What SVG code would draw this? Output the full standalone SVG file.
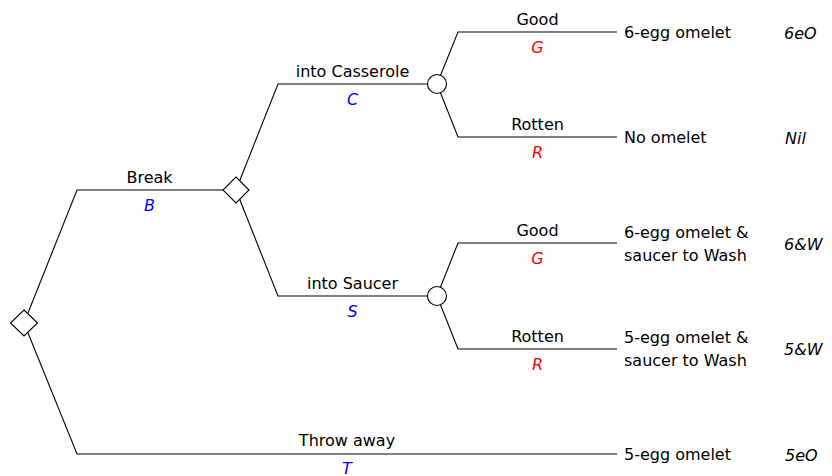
<svg xmlns="http://www.w3.org/2000/svg" width="832" height="476" viewBox="0 0 832 476">
  <style>
    text { font-family: "DejaVu Sans", "Liberation Sans", sans-serif; font-size: 16px; fill: #000; }
    .lbl { text-anchor: middle; }
    .var { font-style: italic; text-anchor: middle; }
    .blue { fill: #0000ff; }
    .red { fill: #ff0000; }
    .code { font-style: italic; }
    .edge { fill: none; stroke: #000; stroke-width: 1.1; }
    .dec { fill: #fff; stroke: #000; stroke-width: 1.1; }
  </style>

  <!-- branches -->
  <g id="connectors">
    <!-- root: break / throw away -->
    <polyline class="edge" points="24,323 77,190 236,190"/>
    <polyline class="edge" points="24,323 77,454 617,454"/>
    <!-- break: casserole / saucer -->
    <polyline class="edge" points="236,190 278,84 437,84"/>
    <polyline class="edge" points="236,190 278,296 437,296"/>
    <!-- casserole chance -->
    <polyline class="edge" points="437,84 458,32 617,32"/>
    <polyline class="edge" points="437,84 458,137 617,137"/>
    <!-- saucer chance -->
    <polyline class="edge" points="437,296 458,243 617,243"/>
    <polyline class="edge" points="437,296 458,349 617,349"/>
  </g>

  <!-- branch labels -->
  <g id="branch-labels">
    <text class="lbl" x="149.5" y="183">Break</text>
    <text class="var blue" x="149.5" y="211">B</text>
    <text class="lbl" x="352.5" y="77">into Casserole</text>
    <text class="var blue" x="352.5" y="105">C</text>
    <text class="lbl" x="352.5" y="289">into Saucer</text>
    <text class="var blue" x="352.5" y="317">S</text>
    <text class="lbl" x="347" y="446">Throw away</text>
    <text class="var blue" x="347" y="473.5">T</text>
    <text class="lbl" x="537.5" y="25">Good</text>
    <text class="var red" x="537.5" y="53">G</text>
    <text class="lbl" x="537.5" y="130">Rotten</text>
    <text class="var red" x="537.5" y="158">R</text>
    <text class="lbl" x="537.5" y="236">Good</text>
    <text class="var red" x="537.5" y="264">G</text>
    <text class="lbl" x="537.5" y="342">Rotten</text>
    <text class="var red" x="537.5" y="370">R</text>
  </g>

  <!-- decision nodes -->
  <g id="root">
    <polygon class="dec" points="24,310 37.5,323 24,336 10.5,323"/>
  </g>
  <g id="break">
    <polygon class="dec" points="236,177 249,190 236,203 223,190"/>
  </g>

  <!-- chance nodes -->
  <g id="casserole">
    <circle class="dec" cx="437" cy="84" r="9.5"/>
  </g>
  <g id="saucer">
    <circle class="dec" cx="437" cy="296" r="9.5"/>
  </g>

  <!-- outcomes -->
  <g id="out-6eO">
    <text x="624" y="38">6-egg omelet</text>
    <text class="code" x="784" y="38.5">6eO</text>
  </g>
  <g id="out-nil">
    <text x="624" y="143">No omelet</text>
    <text class="code" x="785" y="143.5">Nil</text>
  </g>
  <g id="out-6W">
    <text x="624" y="238">6-egg omelet &amp;</text>
    <text x="624" y="261">saucer to Wash</text>
    <text class="code" x="784" y="249.5">6&amp;W</text>
  </g>
  <g id="out-5W">
    <text x="624" y="343">5-egg omelet &amp;</text>
    <text x="624" y="366">saucer to Wash</text>
    <text class="code" x="784" y="355">5&amp;W</text>
  </g>
  <g id="out-5eO">
    <text x="624" y="460">5-egg omelet</text>
    <text class="code" x="785" y="460.5">5eO</text>
  </g>
</svg>
